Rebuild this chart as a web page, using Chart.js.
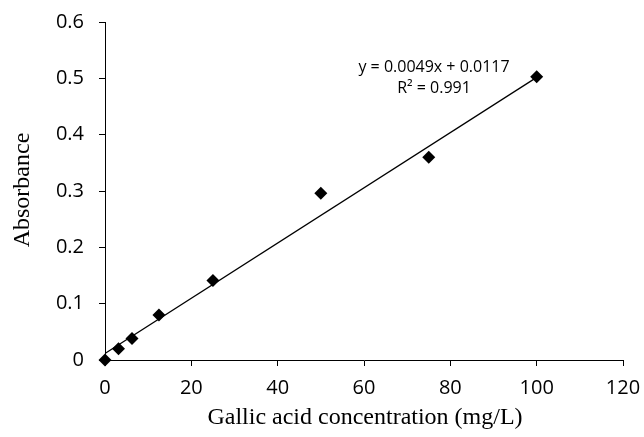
<!DOCTYPE html>
<html>
<head>
<meta charset="utf-8">
<script src="https://cdn.jsdelivr.net/npm/chart.js@4"></script>
<style>
html,body{margin:0;padding:0;background:#fff;}
#wrap{width:644px;height:437px;position:relative;}
</style>
</head>
<body>
<div id="wrap"><canvas id="c" width="644" height="437"></canvas></div>
<script>
const concentrations = [0, 3.125, 6.25, 12.5, 25, 50, 75, 100];
const absorbance = [0, 0.02, 0.038, 0.08, 0.141, 0.296, 0.36, 0.503];
const trendSlope = 0.0049;
const trendIntercept = 0.0117;
const trendRange = [0, 100];
const xTicks = [0, 20, 40, 60, 80, 100, 120];
const yTicks = [0, 0.1, 0.2, 0.3, 0.4, 0.5, 0.6];
const equationLines = ['y = 0.0049x + 0.0117', 'R² = 0.991'];
const xTitle = 'Gallic acid concentration (mg/L)';
const yTitle = 'Absorbance';

const points = concentrations.map((x, i) => ({x, y: absorbance[i]}));
const trend = trendRange.map(x => ({x, y: trendSlope * x + trendIntercept}));

const overlay = {
  id: 'overlay',
  afterDraw(chart) {
    const ctx = chart.ctx;
    ctx.save();
    ctx.fillStyle = '#000';
    ctx.textAlign = 'center';
    ctx.textBaseline = 'middle';
    ctx.font = '16px "Open Sans"';
    ctx.fillText(equationLines[0], 434, 67);
    ctx.fillText(equationLines[1], 434, 88);
    ctx.font = '24px "Liberation Serif"';
    ctx.fillText(xTitle, 365, 418);
    ctx.translate(23, 190);
    ctx.rotate(-Math.PI / 2);
    ctx.fillText(yTitle, 0, 0);
    ctx.restore();
  }
};

new Chart(document.getElementById('c'), {
  type: 'scatter',
  data: {
    datasets: [
      {
        type: 'scatter',
        data: points,
        pointStyle: 'rectRot',
        pointRadius: 6.5,
        pointHoverRadius: 6.5,
        backgroundColor: '#000',
        borderColor: '#000',
        borderWidth: 0,
        clip: false,
        order: 0
      },
      {
        type: 'line',
        data: trend,
        borderColor: '#000',
        borderWidth: 1.2,
        pointRadius: 0,
        fill: false,
        order: 1
      }
    ]
  },
  options: {
    responsive: false,
    animation: false,
    events: [],
    layout: {padding: {top: 22, right: 21, left: 0, bottom: 0}},
    plugins: {legend: {display: false}, tooltip: {enabled: false}},
    scales: {
      x: {
        type: 'linear',
        min: 0, max: 120,
        afterBuildTicks(s) { s.ticks = xTicks.map(v => ({value: v})); },
        afterFit(s) { s.height = 77; s.paddingLeft = 0; s.paddingRight = 0; },
        grid: {drawOnChartArea: false, tickLength: 6, color: '#000', tickColor: '#000'},
        border: {color: '#000', width: 1},
        ticks: {color: '#000', font: {family: '"Open Sans"', size: 20}, padding: 10, maxRotation: 0}
      },
      y: {
        type: 'linear',
        min: 0, max: 0.6,
        afterBuildTicks(s) { s.ticks = yTicks.map(v => ({value: v})); },
        afterFit(s) { s.width = 105; s.paddingTop = 0; s.paddingBottom = 0; },
        grid: {drawOnChartArea: false, tickLength: 6, color: '#000', tickColor: '#000'},
        border: {color: '#000', width: 1},
        ticks: {color: '#000', font: {family: '"Open Sans"', size: 20}, padding: 15,
          callback: v => String(Math.round(v * 10) / 10)}
      }
    }
  },
  plugins: [overlay]
});
</script>
</body>
</html>
